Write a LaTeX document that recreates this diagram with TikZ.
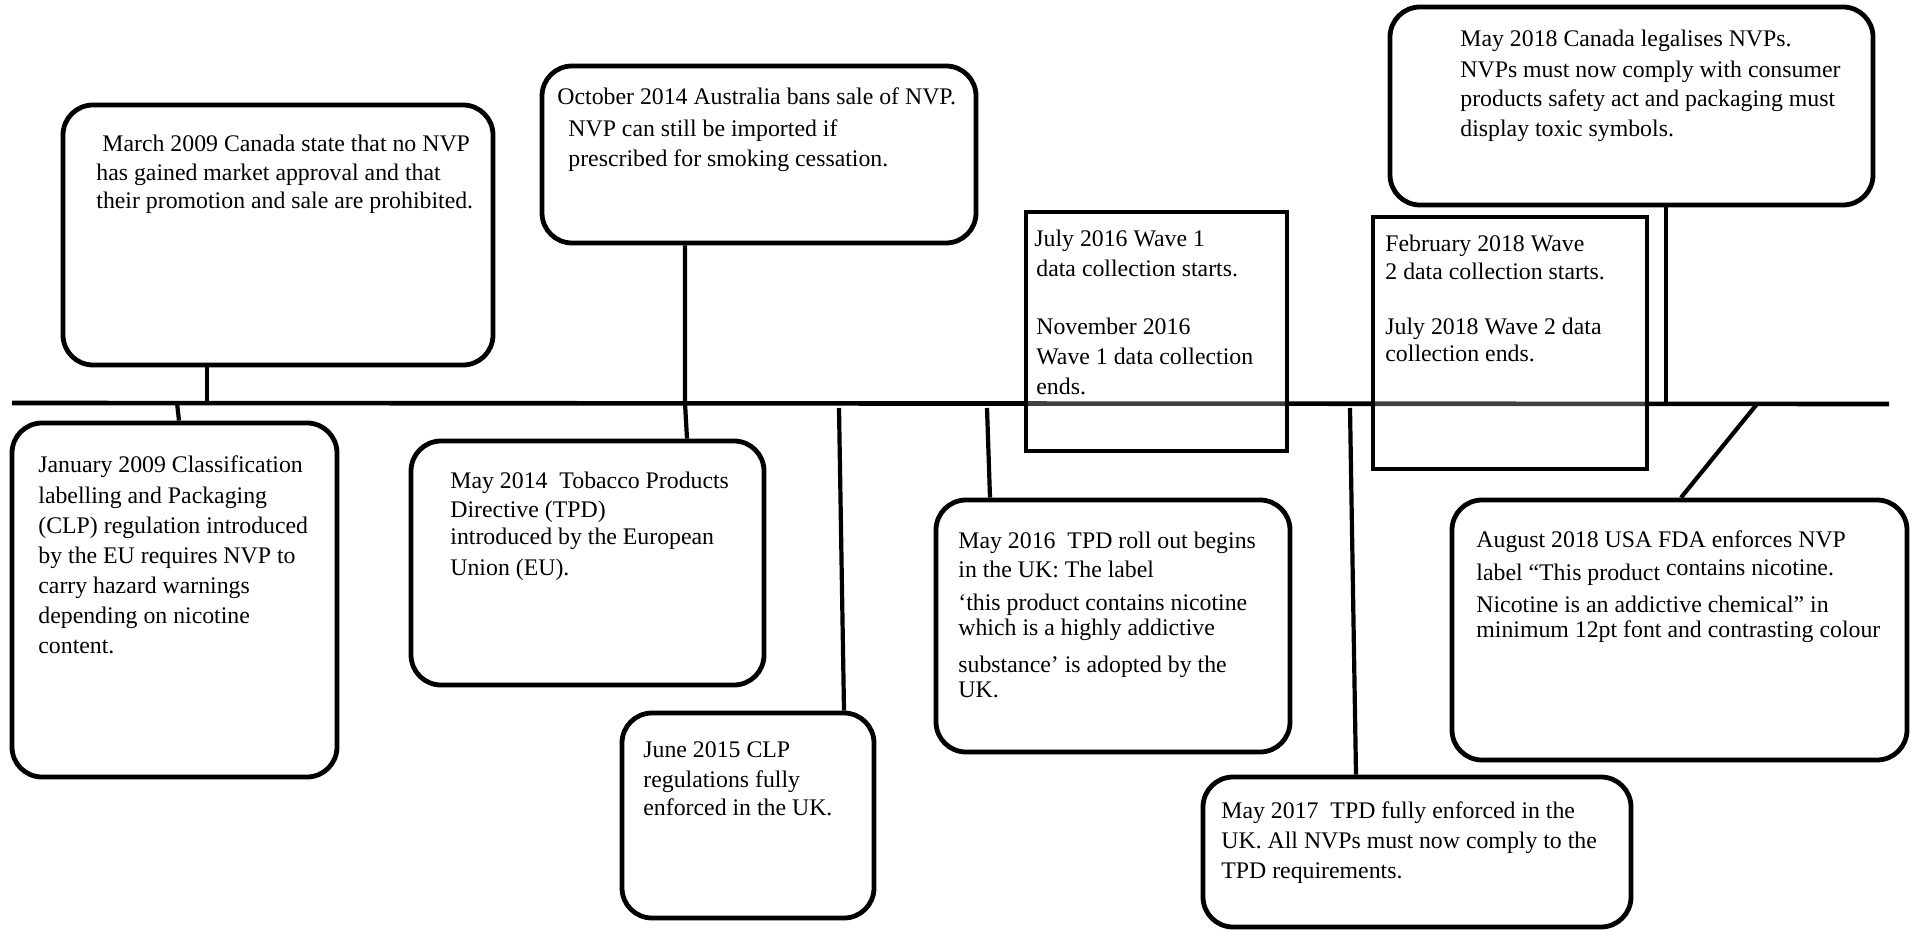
\documentclass[tikz,border=0pt]{standalone}
\usepackage{fontspec}
\setmainfont{Liberation Serif}
\usetikzlibrary{fit}
\newcommand\tline[4]{\node[txt] (#1) at (#2,#3) {#4};}
\begin{document}
\begin{tikzpicture}[x=0.5pt,y=-0.5pt,
  evbox/.style={draw, line width=2.4pt, rounded corners=15pt, inner sep=0pt},
  wavebox/.style={draw, line width=2.4pt, fill=white, fill opacity=0.25, text opacity=1, inner sep=0pt},
  txt/.style={anchor=base west, inner sep=0pt, font=\fontsize{11.9pt}{14pt}\selectfont},
  conn/.style={line width=2.1pt},
  tline/.style={line width=2.3pt}]
\useasboundingbox (0,0) rectangle (1917,930);

% timeline
\coordinate (tlL) at (12,403);
\coordinate (tlR) at (1889,404);
\draw[tline] (tlL) -- (tlR);

% boxes
\node[evbox, fit={(63,105) (493,365)}] (march) {};
\node[evbox, fit={(12,423) (337,777)}] (jan) {};
\node[evbox, fit={(542,66) (976,243)}] (oct) {};
\node[evbox, fit={(411,441) (764,685)}] (may14) {};
\node[evbox, fit={(622,713) (874,918)}] (june) {};
\node[evbox, fit={(936,500) (1290,752)}] (may16) {};
\node[evbox, fit={(1203,777) (1631,927)}] (may17) {};
\node[evbox, fit={(1390,7) (1873,205)}] (may18) {};
\node[evbox, fit={(1452,500) (1907,760)}] (aug) {};
\node[wavebox, fit={(1026,212) (1287,451)}] (wave1) {};
\node[wavebox, fit={(1373,217) (1647,469)}] (wave2) {};

% connector end points
\coordinate (cMarch) at (207,403);
\coordinate (cJan) at (177,403);
\coordinate (cJanB) at (179,403);
\coordinate (cOct) at (685,403);
\coordinate (cMay14) at (687,403);
\coordinate (cJune) at (839,408);
\coordinate (cJuneB) at (844,408);
\coordinate (cMay16) at (987,408);
\coordinate (cMay16B) at (990,408);
\coordinate (cMay17) at (1350,408);
\coordinate (cMay17B) at (1356,408);
\coordinate (cMay18) at (1666,403);
\coordinate (cAug) at (1757,404);
\coordinate (cAugB) at (1681,404);

\draw[conn] (cMarch |- march.south) -- (cMarch);
\draw[conn] (cJan) -- (cJanB |- jan.north);
\draw[conn] (cOct |- oct.south) -- (cOct) -- (cMay14 |- may14.north);
\draw[conn] (cJune) -- (cJuneB |- june.north);
\draw[conn] (cMay16) -- (cMay16B |- may16.north);
\draw[conn] (cMay17) -- (cMay17B |- may17.north);
\draw[conn] (cMay18 |- may18.south) -- (cMay18);
\draw[conn] (cAug) -- (cAugB |- aug.north);

% texts
\tline{m1}{102}{152}{March 2009 Canada state that no NVP}
\tline{m2}{96}{181}{has gained market approval and that}
\tline{m3}{96}{209}{their promotion and sale are prohibited.}

\tline{j1}{38}{473}{January 2009 Classification}
\tline{j2}{38}{503}{labelling and Packaging}
\tline{j3}{38}{533}{(CLP) regulation introduced}
\tline{j4}{38}{563}{by the EU requires NVP to}
\tline{j5}{38}{593}{carry hazard warnings}
\tline{j6}{38}{623}{depending on nicotine}
\tline{j7}{38}{653}{content.}

\tline{o1}{557}{105}{October 2014 Australia bans sale of NVP.}
\tline{o2}{568}{137}{NVP can still be imported if}
\tline{o3}{568}{167}{prescribed for smoking cessation.}

\tline{t1}{450}{488}{May 2014\ \ Tobacco Products}
\tline{t2}{450}{517}{Directive (TPD)}
\tline{t3}{450}{545}{introduced by the European}
\tline{t4}{450}{575}{Union (EU).}

\tline{u1}{643}{757}{June 2015 CLP}
\tline{u2}{643}{787}{regulations fully}
\tline{u3}{643}{815}{enforced in the UK.}

\tline{w1}{1034}{247}{July 2016 Wave 1}
\tline{w2}{1036}{277}{data collection starts.}
\tline{w3}{1036}{335}{November 2016}
\tline{w4}{1036}{365}{Wave 1 data collection}
\tline{w5}{1036}{395}{ends.}

\tline{v1}{1385}{252}{February 2018 Wave}
\tline{v2}{1385}{280}{2 data collection starts.}
\tline{v3}{1385}{335}{July 2018 Wave 2 data}
\tline{v4}{1385}{362}{collection ends.}

\tline{r1}{958}{548}{May 2016\ \ TPD roll out begins}
\tline{r2}{958}{577}{in the UK: The label}
\tline{r3}{958}{610}{‘this product contains nicotine}
\tline{r4}{958}{635}{which is a highly addictive}
\tline{r5}{958}{672}{substance’ is adopted by the}
\tline{r6}{958}{697}{UK.}

\tline{f1}{1221}{818}{May 2017\ \ TPD fully enforced in the}
\tline{f2}{1221}{848}{UK. All NVPs must now comply to the}
\tline{f3}{1221}{878}{TPD requirements.}

\tline{c1}{1460}{47}{May 2018 Canada legalises NVPs.}
\tline{c2}{1460}{78}{NVPs must now comply with consumer}
\tline{c3}{1460}{107}{products safety act and packaging must}
\tline{c4}{1460}{137}{display toxic symbols.}

\tline{a1}{1476}{547}{August 2018 USA FDA enforces NVP}
\tline{a2}{1476}{580}{label “This product \raisebox{2pt}{contains nicotine.}}
\tline{a3}{1476}{612}{Nicotine is an addictive chemical” in}
\tline{a4}{1476}{637}{minimum 12pt font and contrasting colour}
\end{tikzpicture}
\end{document}
